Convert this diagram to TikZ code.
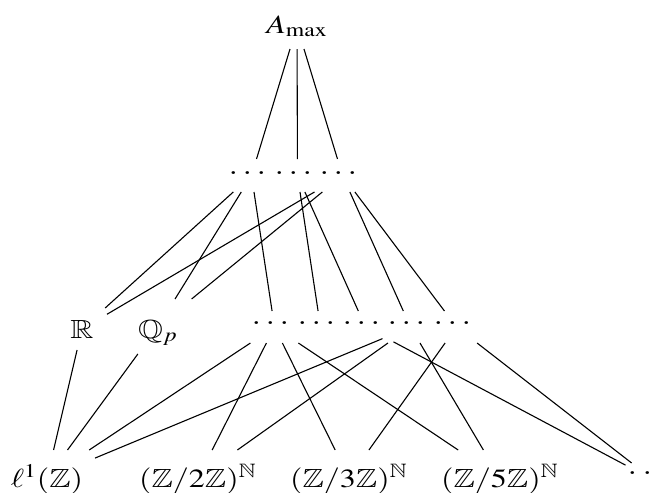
\documentclass[tikz,border=0pt]{standalone}
\usepackage{mathptmx}
\usepackage{amssymb}
\usepackage{graphicx}
\newcommand{\sqz}[1]{\scalebox{1}[0.82]{#1}}
\newcommand{\dotgrp}{{\fontsize{21}{24}\selectfont\scalebox{1}[0.85]{.\kern1.75pt.\kern1.75pt.\kern3.5pt}}}
\newcommand{\dotgrpb}{{\fontsize{21}{24}\selectfont\scalebox{1}[0.85]{.\kern2.25pt.\kern2.25pt.\kern5.5pt}}}
\tikzset{
  lab/.style={inner sep=0pt, outer sep=0pt, font=\fontsize{16}{19}\selectfont},
  topdots/.style={lab, text height=7.75pt, text depth=8.75pt, minimum width=28pt},
  middots/.style={lab, text height=6.75pt, text depth=9.25pt, minimum width=28pt},
  botlab/.style={lab, text height=18.5pt, text depth=9.5pt, minimum width=48pt},
  link/.style={line width=0.55pt}
}
\begin{document}
\begin{tikzpicture}[x=0.5pt,y=-0.5pt]
\useasboundingbox (0,0) rectangle (660,493);
% top
\node[lab, text height=15pt, text depth=8pt, minimum width=20pt] (A) at (297,26) {\sqz{$A_{\max}$}};
% first dots row
\node[topdots] (T1) at (251.5,175.5) {\dotgrp};
\node[topdots] (T2) at (297.5,175.5) {\dotgrp};
\node[topdots] (T3) at (342.5,175.5) {\dotgrp};
% second row
\node[lab, text height=15pt, text depth=6pt, minimum width=25pt] (R) at (82,329) {\sqz{$\mathbb{R}$}};
\node[lab, text height=19.5pt, text depth=8pt, minimum width=36pt] (Q) at (158,326.5) {\sqz{$\mathbb{Q}_p$}};
\node[middots] (M1) at (274.5,327) {\dotgrp};
\node[middots] (M2) at (320.5,327) {\dotgrp};
\node[middots] (M3) at (365.5,327) {\dotgrp};
\node[middots] (M4) at (410.5,327) {\dotgrp};
\node[middots] (M5) at (456.5,327) {\dotgrp};
% bottom row
\node[botlab] (L) at (47,478) {\sqz{$\ell^1(\mathbb{Z})$}};
\node[botlab] (Z2) at (198,478) {\sqz{$(\mathbb{Z}/2\mathbb{Z})^{\mathbb{N}}$}};
\node[botlab] (Z3) at (349,478) {\sqz{$(\mathbb{Z}/3\mathbb{Z})^{\mathbb{N}}$}};
\node[botlab] (Z5) at (500,478) {\sqz{$(\mathbb{Z}/5\mathbb{Z})^{\mathbb{N}}$}};
\node[lab, text height=5.75pt, text depth=11.25pt, minimum width=28pt] (D) at (653.5,480) {\dotgrpb};
% connectors
\draw[link] (A) -- (T1);
\draw[link] (A) -- (T2);
\draw[link] (A) -- (T3);
\draw[link] (T1) -- (R);
\draw[link] (T1) -- (Q);
\draw[link] (T1) -- (M1);
\draw[link] (T2) -- (M2);
\draw[link] (T2) -- (M3);
\draw[link] (T3) -- (R);
\draw[link] (T3) -- (Q);
\draw[link] (T3) -- (M4);
\draw[link] (T3) -- (M5);
\draw[link] (R) -- (L);
\draw[link] (Q) -- (L);
\draw[link] (M1) -- (L);
\draw[link] (M1) -- (Z2);
\draw[link] (M1) -- (Z3);
\draw[link] (M1) -- (Z5);
\draw[link] (M4) -- (L);
\draw[link] (M4) -- (Z2);
\draw[link] (M4) -- (Z5);
\draw[link] (M3) -- (D);
\draw[link] (M5) -- (Z3);
\draw[link] (M5) -- (D);
\end{tikzpicture}
\end{document}
